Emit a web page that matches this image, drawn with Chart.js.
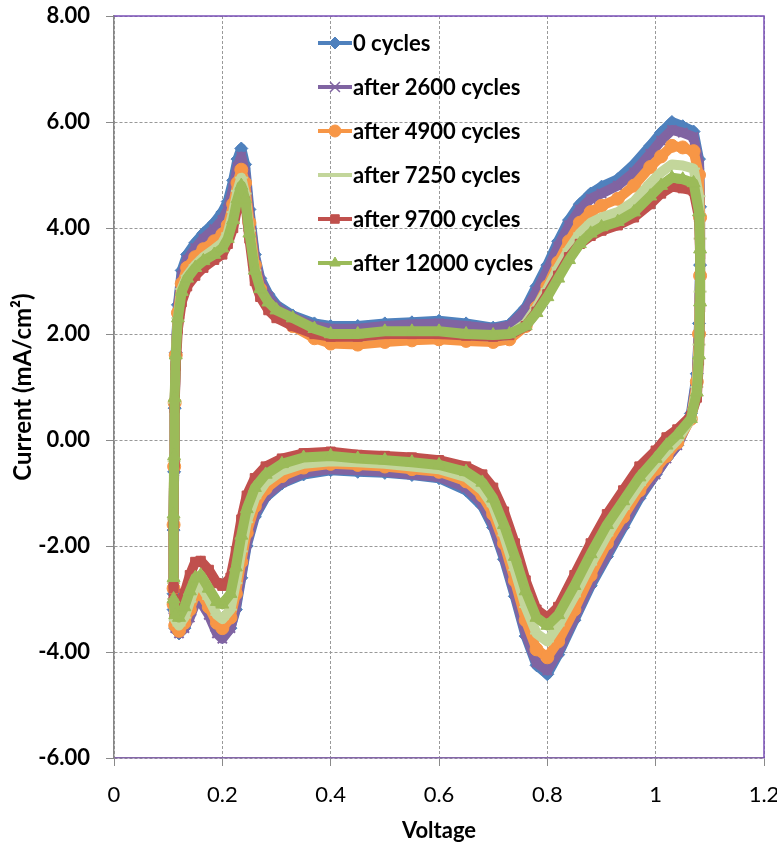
<!DOCTYPE html>
<html>
<head>
<meta charset="utf-8">
<script src="https://cdn.jsdelivr.net/npm/chart.js@4/dist/chart.umd.min.js"></script>
<style>
  html, body { margin: 0; padding: 0; background: #fff; }
  #wrap { width: 777px; height: 846px; position: relative; }
</style>
</head>
<body>
<div id="wrap"><canvas id="cvChart" width="777" height="846"></canvas></div>
<script>
// voltage sweep (same points for every scan)
const voltage = [0.110, 0.110, 0.111, 0.112, 0.114, 0.118, 0.125, 0.135, 0.150, 0.165, 0.185, 0.200, 0.210, 0.220, 0.228, 0.235, 0.242, 0.250, 0.260, 0.270, 0.285, 0.300, 0.330, 0.370, 0.400, 0.450, 0.500, 0.550, 0.600, 0.650, 0.700, 0.730, 0.760, 0.780, 0.800, 0.820, 0.840, 0.860, 0.880, 0.900, 0.930, 0.960, 0.990, 1.010, 1.030, 1.050, 1.070, 1.080, 1.082, 1.082, 1.080, 1.076, 1.065,
  1.040, 1.020, 1.000, 0.970, 0.940, 0.910, 0.880, 0.850, 0.820, 0.800, 0.780, 0.760, 0.740, 0.720, 0.700, 0.680, 0.650, 0.600, 0.550, 0.500, 0.450, 0.400, 0.350, 0.310, 0.280, 0.260, 0.245, 0.235, 0.225, 0.215, 0.200, 0.190, 0.175, 0.160, 0.150, 0.140, 0.130, 0.120, 0.113, 0.110];

const cur0 = [-2.9, -1.7, -0.6, 0.6, 1.65, 2.55, 3.2, 3.5, 3.72, 3.9, 4.1, 4.3, 4.5, 4.9, 5.3, 5.5, 5.2, 4.35, 3.5, 3.05, 2.75, 2.55, 2.35, 2.2, 2.15, 2.15, 2.2, 2.22, 2.25, 2.2, 2.12, 2.18, 2.5, 2.9, 3.3, 3.75, 4.15, 4.45, 4.65, 4.78, 4.92, 5.2, 5.55, 5.8, 6.0, 5.92, 5.82, 5.3, 4.4, 3.3, 2.2, 1.25, 0.5,
  -0.1, -0.35, -0.65, -1.1, -1.65, -2.2, -2.75, -3.4, -4.05, -4.42, -4.25, -3.7, -2.95, -2.25, -1.65, -1.25, -0.95, -0.72, -0.66, -0.62, -0.6, -0.57, -0.65, -0.82, -1.08, -1.45, -2.0, -2.6, -3.2, -3.55, -3.72, -3.6, -3.25, -3.0, -3.02, -3.3, -3.55, -3.65, -3.55, -3.2];

const cur2600 = [-2.9, -1.7, -0.6, 0.6, 1.6, 2.5, 3.1, 3.4, 3.62, 3.8, 3.98, 4.15, 4.35, 4.75, 5.15, 5.35, 5.05, 4.25, 3.45, 3.0, 2.7, 2.5, 2.32, 2.15, 2.1, 2.1, 2.15, 2.18, 2.2, 2.15, 2.1, 2.15, 2.45, 2.8, 3.2, 3.65, 4.05, 4.35, 4.55, 4.65, 4.8, 5.05, 5.4, 5.65, 5.85, 5.8, 5.72, 5.2, 4.3, 3.2, 2.1, 1.2, 0.45,
  -0.1, -0.35, -0.65, -1.05, -1.6, -2.15, -2.7, -3.35, -4.0, -4.35, -4.2, -3.65, -2.9, -2.2, -1.6, -1.2, -0.9, -0.7, -0.65, -0.6, -0.57, -0.55, -0.62, -0.8, -1.05, -1.4, -1.95, -2.55, -3.15, -3.55, -3.75, -3.65, -3.3, -3.05, -3.08, -3.35, -3.55, -3.65, -3.55, -3.2];

const cur4900 = [-2.8, -1.6, -0.5, 0.7, 1.6, 2.4, 2.95, 3.25, 3.45, 3.6, 3.75, 3.88, 4.05, 4.45, 4.85, 5.1, 4.85, 4.1, 3.3, 2.85, 2.55, 2.35, 2.15, 1.92, 1.82, 1.8, 1.85, 1.88, 1.9, 1.87, 1.85, 1.9, 2.15, 2.5, 2.9, 3.35, 3.75, 4.1, 4.3, 4.42, 4.55, 4.8, 5.15, 5.35, 5.55, 5.52, 5.45, 5.0, 4.2, 3.1, 2.0, 1.1, 0.4,
  -0.05, -0.3, -0.55, -0.95, -1.45, -1.95, -2.55, -3.2, -3.8, -4.1, -3.95, -3.4, -2.65, -1.95, -1.4, -1.05, -0.78, -0.6, -0.55, -0.5, -0.47, -0.45, -0.52, -0.68, -0.92, -1.25, -1.75, -2.3, -2.9, -3.35, -3.55, -3.45, -3.15, -2.9, -2.92, -3.2, -3.45, -3.6, -3.5, -3.1];

const cur7250 = [-2.7, -1.5, -0.4, 0.7, 1.55, 2.3, 2.85, 3.1, 3.3, 3.45, 3.6, 3.72, 3.9, 4.3, 4.7, 4.95, 4.65, 3.95, 3.2, 2.8, 2.55, 2.4, 2.22, 2.05, 1.97, 1.95, 2.0, 2.02, 2.02, 1.98, 1.95, 1.98, 2.2, 2.5, 2.85, 3.25, 3.6, 3.9, 4.1, 4.2, 4.3, 4.5, 4.85, 5.05, 5.2, 5.18, 5.12, 4.6, 3.8, 2.8, 1.8, 1.0, 0.4,
  0.0, -0.22, -0.45, -0.85, -1.3, -1.8, -2.35, -2.95, -3.5, -3.8, -3.65, -3.15, -2.45, -1.8, -1.25, -0.95, -0.7, -0.55, -0.5, -0.45, -0.42, -0.4, -0.45, -0.58, -0.8, -1.1, -1.55, -2.1, -2.7, -3.2, -3.38, -3.3, -3.0, -2.75, -2.78, -3.05, -3.35, -3.5, -3.4, -3.0];

const cur9700 = [-2.8, -1.6, -0.5, 0.6, 1.4, 2.1, 2.6, 2.9, 3.1, 3.25, 3.4, 3.5, 3.7, 4.0, 4.4, 4.65, 4.5, 3.8, 3.0, 2.7, 2.45, 2.3, 2.15, 2.0, 1.95, 1.95, 2.0, 2.0, 2.0, 1.97, 1.95, 1.98, 2.15, 2.42, 2.75, 3.1, 3.45, 3.7, 3.85, 3.95, 4.05, 4.2, 4.45, 4.65, 4.78, 4.75, 4.7, 4.2, 3.5, 2.5, 1.5, 0.8, 0.45,
  0.2, 0.05, -0.2, -0.5, -0.95, -1.4, -1.95, -2.55, -3.15, -3.35, -3.2, -2.65, -1.95, -1.35, -0.9, -0.65, -0.5, -0.38, -0.33, -0.3, -0.28, -0.22, -0.25, -0.35, -0.5, -0.72, -1.05, -1.5, -2.1, -2.6, -2.75, -2.7, -2.45, -2.28, -2.3, -2.55, -2.9, -3.2, -3.25, -3.0];

const cur12000 = [-2.6, -1.4, -0.3, 0.8, 1.6, 2.3, 2.8, 3.05, 3.25, 3.38, 3.5, 3.62, 3.8, 4.15, 4.55, 4.8, 4.55, 3.9, 3.2, 2.85, 2.6, 2.45, 2.3, 2.1, 2.0, 2.0, 2.05, 2.05, 2.05, 2.0, 1.98, 2.0, 2.15, 2.4, 2.7, 3.05, 3.4, 3.7, 3.9, 4.02, 4.12, 4.3, 4.6, 4.8, 4.95, 4.92, 4.85, 4.3, 3.6, 2.6, 1.6, 0.9, 0.4,
  0.1, -0.1, -0.35, -0.7, -1.15, -1.6, -2.15, -2.75, -3.3, -3.5, -3.35, -2.85, -2.2, -1.6, -1.1, -0.8, -0.6, -0.47, -0.42, -0.38, -0.35, -0.3, -0.33, -0.45, -0.65, -0.9, -1.3, -1.8, -2.4, -2.9, -3.1, -3.05, -2.8, -2.55, -2.6, -2.85, -3.15, -3.35, -3.3, -3.0];

const seriesLabels = ['0 cycles', 'after 2600 cycles', 'after 4900 cycles', 'after 7250 cycles', 'after 9700 cycles', 'after 12000 cycles'];
const seriesValues = [cur0, cur2600, cur4900, cur7250, cur9700, cur12000];
const seriesColors = ['#4F81BD', '#8064A2', '#F79646', '#C3D69B', '#C0504D', '#9BBB59'];
const seriesMarkers = ['rectRot', 'crossRot', 'circle', 'line', 'rect', 'triangle'];

const datasets = seriesLabels.map((label, i) => ({
  label: label,
  data: voltage.map((v, k) => ({ x: v, y: seriesValues[i][k] })),
  showLine: true,
  borderColor: seriesColors[i],
  backgroundColor: seriesColors[i],
  borderWidth: 10,
  borderJoinStyle: 'round',
  pointStyle: seriesMarkers[i],
  pointRadius: seriesMarkers[i] === 'triangle' ? 7.5 : 6.5,
  pointBorderWidth: (seriesMarkers[i] === 'crossRot' || seriesMarkers[i] === 'line') ? 2 : 1,
  pointBorderColor: seriesColors[i],
  pointBackgroundColor: seriesColors[i],
  tension: 0,
  order: seriesLabels.length - 1 - i   // later scans drawn on top
}));

// legend drawn inside the plot, like the original
const insideLegend = {
  id: 'insideLegend',
  afterDatasetsDraw(chart) {
    const c = chart.ctx;
    c.save();
    datasets.forEach((ds, i) => {
      const y = 43 + i * 44;
      c.strokeStyle = ds.borderColor;
      c.fillStyle = ds.borderColor;
      c.lineWidth = 4;
      c.beginPath();
      c.moveTo(318, y);
      c.lineTo(352, y);
      c.stroke();
      if (ds.pointStyle !== 'line') {
        c.lineWidth = ds.pointStyle === 'crossRot' ? 1.5 : 1;
        Chart.helpers.drawPoint(c, { pointStyle: ds.pointStyle, radius: ds.pointStyle === 'crossRot' ? 7 : 6, rotation: 0, borderWidth: c.lineWidth }, 335, y);
      }
      c.fillStyle = '#000';
      c.font = 'bold 22px Lato';
      c.textBaseline = 'middle';
      c.textAlign = 'left';
      c.fillText(ds.label, 353, y + 1);
    });
    c.restore();
  }
};

// purple frame on top and right edge of the plot area
const plotFrame = {
  id: 'plotFrame',
  beforeDatasetsDraw(chart) {
    const a = chart.chartArea;
    const c = chart.ctx;
    c.save();
    c.strokeStyle = '#7A4FB8';
    c.lineWidth = 1.5;
    c.beginPath();
    c.moveTo(a.left, a.top);
    c.lineTo(a.right, a.top);
    c.lineTo(a.right, a.bottom);
    c.stroke();
    c.restore();
  }
};

new Chart(document.getElementById('cvChart'), {
  type: 'scatter',
  data: { datasets: datasets },
  plugins: [plotFrame, insideLegend],
  options: {
    responsive: false,
    animation: false,
    devicePixelRatio: 1,
    layout: { padding: { top: 16, right: 13, left: 0, bottom: 0 } },
    plugins: { legend: { display: false }, tooltip: { enabled: false } },
    scales: {
      x: {
        type: 'linear',
        min: 0, max: 1.2,
        ticks: {
          stepSize: 0.2,
          padding: 16,
          color: '#000',
          font: { family: 'Lato', size: 22 },
          callback: v => String(Number(v.toFixed(1)))
        },
        grid: { color: '#999999', tickColor: '#8a8a8a', tickLength: 8 },
        border: { color: '#8467A8', width: 1.5, dash: [3, 2] },
        title: { display: true, text: 'Voltage', color: '#000', font: { family: 'Lato', size: 22, weight: 'bold' }, padding: { top: 0, bottom: 2 } },
        afterFit: s => { s.height = 88; s.paddingLeft = 0; s.paddingRight = 0; }
      },
      y: {
        type: 'linear',
        min: -6, max: 8,
        ticks: {
          stepSize: 2,
          padding: 16,
          color: '#000',
          font: { family: 'Lato', size: 22, weight: 'bold' },
          callback: v => v.toFixed(2)
        },
        grid: { color: '#999999', tickColor: '#8a8a8a', tickLength: 8 },
        border: { color: '#868686', width: 1.5, dash: [3, 2] },
        title: { display: true, text: 'Current (mA/cm²)', color: '#000', font: { family: 'Lato', size: 24, weight: 'bold' }, padding: { top: 9, bottom: 0 } },
        afterFit: s => { s.width = 114; s.paddingTop = 0; s.paddingBottom = 0; }
      }
    }
  }
});
</script>
</body>
</html>
